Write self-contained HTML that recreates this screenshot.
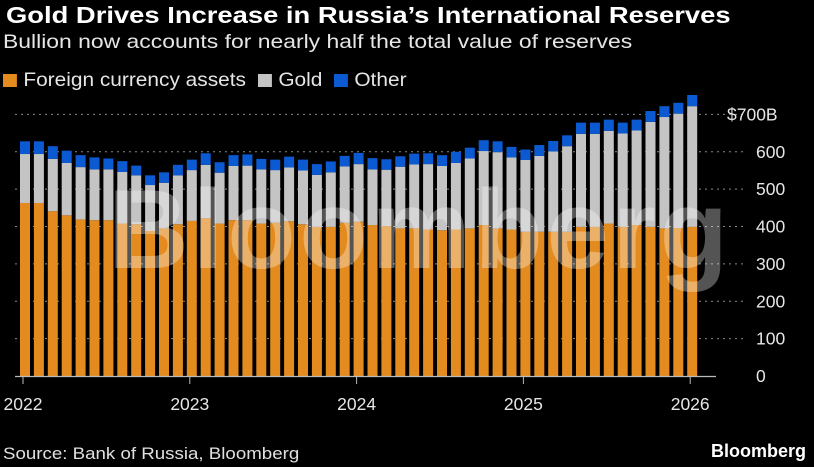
<!DOCTYPE html>
<html><head><meta charset="utf-8"><style>
body{margin:0;background:#000;width:814px;height:467px;overflow:hidden;font-family:"Liberation Sans","DejaVu Sans",sans-serif;color:#fff}
.t{position:absolute;left:6px;top:2px;font-size:23px;font-weight:bold;white-space:nowrap;transform-origin:0 0;transform:scaleX(1.19)}
.s{position:absolute;left:3px;top:31px;font-size:19.5px;color:#e6e6e6;white-space:nowrap;transform-origin:0 0;transform:scaleX(1.175)}
.lg{position:absolute;top:69px;font-size:19.5px;color:#e6e6e6;white-space:nowrap;transform-origin:0 0;transform:scaleX(1.07)}
.sq{display:inline-block;width:13px;height:13px;margin-right:6px;vertical-align:-1px}
.src{position:absolute;left:3px;top:444px;font-size:17px;color:#e0e0e0;transform-origin:0 0;transform:scaleX(1.1);white-space:nowrap}
.bb{position:absolute;right:8px;top:441px;font-size:18px;font-weight:bold}
svg{position:absolute;left:0;top:0}
</style></head><body>
<div class="t">Gold Drives Increase in Russia’s International Reserves</div>
<div class="s">Bullion now accounts for nearly half the total value of reserves</div>
<div class="lg" style="left:3px"><span class="sq" style="background:#e38b1f"></span>Foreign currency assets</div>
<div class="lg" style="left:258px"><span class="sq" style="background:#c4c4c4"></span>Gold</div>
<div class="lg" style="left:334px"><span class="sq" style="background:#0b5ad2"></span>Other</div>
<svg id="c" width="814" height="467"></svg>
<div class="src">Source: Bank of Russia, Bloomberg</div>
<div class="bb">Bloomberg</div>
<script>
const fx=[463,463,441,430,419,417,417,408,406,388,395,406,415,422,408,417,417,408,410,414,406,399,399,410,413,404,401,395,395,392,390,392,395,404,395,392,386,386,386,386,399,399,408,399,404,399,395,396,399];
const gold=[594,594,581,570,559,553,553,546,537,511,517,537,551,565,544,562,563,553,551,558,550,538,545,561,567,553,552,560,566,567,562,570,582,602,599,585,578,589,601,615,648,648,656,649,657,680,693,702,722];
const total=[628,628,615,603,591,585,582,575,563,537,545,565,579,596,572,591,593,581,579,587,579,567,574,589,597,583,580,588,595,596,591,600,611,631,628,613,606,618,629,644,678,678,686,678,686,709,722,731,752];
const yTicks=[0,100,200,300,400,500,600,700];
const yLabels=["0","100","200","300","400","500","600","$700B"];
const xYears=["2022","2023","2024","2025","2026"];
const NS="http://www.w3.org/2000/svg";
const svg=document.getElementById('c');
const y=v=>376-v*0.3737;
const x=i=>25+i*13.9;
function mk(t,a){const e=document.createElementNS(NS,t);for(const k in a)e.setAttribute(k,a[k]);svg.appendChild(e);return e;}
yTicks.forEach((v,i)=>{
 if(v>0){const g=mk('line',{x1:15,x2:745,y1:y(v),y2:y(v),stroke:'#888','stroke-width':1,'stroke-dasharray':'2,4'});
 
 }
 const t=mk('text',{x:v==700?727:756,y:y(v)+6,fill:'#e6e6e6','font-size':17.5,'font-family':'Liberation Sans, sans-serif'});
 t.textContent=yLabels[i];
 
 
});
fx.forEach((v,i)=>{
 const cx=x(i);
 const r1=mk('rect',{x:cx-5,width:10,y:y(v),height:y(0)-y(v),fill:'#e38b1f'});
 
 
 const r2=mk('rect',{x:cx-5,width:10,y:y(gold[i]),height:y(v)-y(gold[i]),fill:'#c4c4c4'});
 
 
 const r3=mk('rect',{x:cx-5,width:10,y:y(total[i]),height:y(gold[i])-y(total[i]),fill:'#0b5ad2'});
 
 
});
const wm=mk('text',{x:418,y:268,'text-anchor':'middle',fill:'#fff','fill-opacity':0.33,'font-size':112,'font-weight':'bold','font-family':'Liberation Sans, sans-serif','textLength':620});
wm.textContent='Bloomberg';


const ax=mk('line',{x1:15,x2:716,y1:376.5,y2:376.5,stroke:'#bbb','stroke-width':1.2});


xYears.forEach((s,i)=>{
 const cx=x(i*12)-2;
 const tk=mk('line',{x1:cx,x2:cx,y1:377,y2:384,stroke:'#bbb'});
 
 
 const t=mk('text',{x:cx,y:410,'text-anchor':'middle',fill:'#e6e6e6','font-size':17.5,'font-family':'Liberation Sans, sans-serif'});
 t.textContent=s;
 
 
});
</script>
</body></html>
